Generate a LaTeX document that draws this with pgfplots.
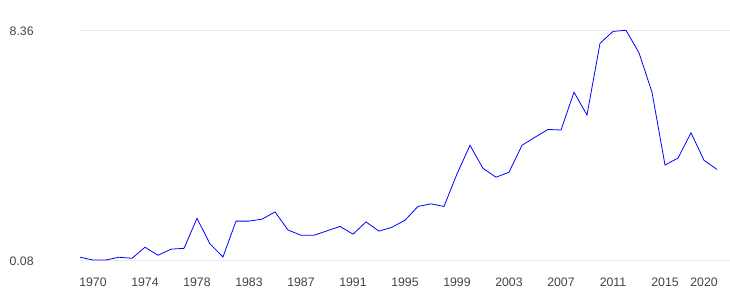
\documentclass[border=0pt]{standalone}
\usepackage{pgfplots}
\pgfplotsset{compat=1.18}
\usepackage{fontspec}
\setmainfont{Liberation Sans}
\definecolor{ticktext}{HTML}{444444}
\definecolor{gridc}{HTML}{EBEBEB}
\begin{document}
\begin{tikzpicture}[x=1pt,y=1pt]
\path[use as bounding box] (0,0) rectangle (730,290);
\begin{axis}[
  at={(80pt,30pt)}, anchor=south west,
  scale only axis, width=650pt, height=230pt,
  xmin=0, xmax=50, ymin=0.08, ymax=8.36,
  clip=false,
  axis line style={draw=none},
  tick style={draw=none},
  ytick={0.08,8.36},
  yticklabels={0.08,8.36},
  ymajorgrids, grid style={gridc, line width=0.8pt},
  xtick={1,5,9,13,17,21,25,29,33,37,41,45,48},
  xticklabels={1970,1974,1978,1983,1987,1991,1995,1999,2003,2007,2011,2015,2020},
  /pgf/number format/assume math mode=true,
  ticklabel style={font=\fontsize{12.3}{14}\selectfont, text=ticktext},
  yticklabel style={anchor=west, inner sep=0pt, xshift=-70.5pt, yshift=-1pt},
  xticklabel style={yshift=-14pt},
]
\addplot[blue, line width=0.8pt] coordinates {
(0,0.18) (1,0.08) (2,0.08) (3,0.18) (4,0.14) (5,0.54) (6,0.25) (7,0.47) (8,0.50) (9,1.58)
(10,0.66) (11,0.19) (12,1.48) (13,1.48) (14,1.55) (15,1.81) (16,1.16) (17,0.97) (18,0.97) (19,1.13)
(20,1.29) (21,1.01) (22,1.45) (23,1.12) (24,1.26) (25,1.51) (26,2.01) (27,2.10) (28,2.01) (29,3.18)
(30,4.21) (31,3.38) (32,3.06) (33,3.24) (34,4.21) (35,4.50) (36,4.78) (37,4.76) (38,6.12) (39,5.30)
(40,7.88) (41,8.31) (42,8.35) (43,7.54) (44,6.12) (45,3.50) (46,3.75) (47,4.66) (48,3.67) (49,3.34)
};
\end{axis}
\end{tikzpicture}
\end{document}
